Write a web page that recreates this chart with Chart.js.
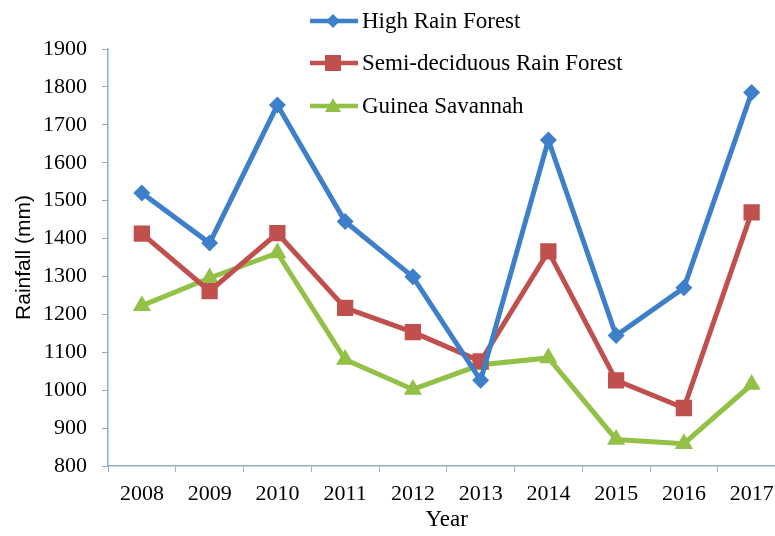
<!DOCTYPE html>
<html>
<head>
<meta charset="utf-8">
<title>Rainfall</title>
<script src="https://cdn.jsdelivr.net/npm/chart.js@4.4.0/dist/chart.umd.min.js"></script>
<style>
  body { margin: 0; overflow: hidden; background: #fff; }
  #wrap { position: relative; width: 797px; height: 536px; }
  #legend { position: absolute; left: 308px; top: 0; font-family: "Liberation Serif", "Times New Roman", serif; font-size: 23px; color: #000; }
  .row { position: absolute; left: 0; height: 26px; white-space: nowrap; display: flex; align-items: center; }
  .row svg { width: 52px; height: 26px; margin-right: 2px; }
</style>
</head>
<body>
<div id="wrap">
  <canvas id="graficaLluvia" width="797" height="536"></canvas>
  <div id="legend"></div>
</div>
<script>
// Datos
const years = ['2008', '2009', '2010', '2011', '2012', '2013', '2014', '2015', '2016', '2017'];
const seriesNames = ['High Rain Forest', 'Semi-deciduous Rain Forest', 'Guinea Savannah'];
const highRainForest = [1520, 1388, 1752, 1445, 1299, 1026, 1660, 1144, 1270, 1785];
const semiDeciduous = [1413, 1261, 1414, 1217, 1153, 1076, 1366, 1026, 953, 1469];
const guineaSavannah = [1223, 1296, 1362, 1081, 1002, 1067, 1085, 870, 859, 1015];
const yTicks = [800, 900, 1000, 1100, 1200, 1300, 1400, 1500, 1600, 1700, 1800, 1900];

const colores = ['#3d7fc9', '#c0504d', '#93c047'];
const formas = ['rectRot', 'rect', 'triangle'];
const radios = [8.5, 11.5, 10.5];
const valores = [highRainForest, semiDeciduous, guineaSavannah];

const axisColor = '#8fb0c4';
const serif = 'Liberation Serif';

const datasets = seriesNames.map((name, i) => ({
  label: name,
  data: valores[i],
  borderColor: colores[i],
  backgroundColor: colores[i],
  borderWidth: 5,
  pointStyle: formas[i],
  pointRadius: radios[i],
  pointHoverRadius: radios[i],
  pointBorderWidth: 0,
  tension: 0
}));

const config = {
  type: 'line',
  data: { labels: years, datasets: datasets },
  options: {
    responsive: false,
    animation: false,
    layout: { padding: { top: 49, right: 4, left: 0, bottom: 0 } },
    plugins: {
      legend: { display: false },
      tooltip: { enabled: false }
    },
    scales: {
      x: {
        type: 'category',
        offset: true,
        grid: { display: true, drawOnChartArea: false, drawTicks: true, tickLength: 6, color: axisColor, offset: true },
        border: { color: axisColor, width: 1.5 },
        ticks: { color: '#000', font: { family: serif, size: 22 }, padding: 9, maxRotation: 0, autoSkip: false },
        title: { display: true, text: 'Year', color: '#000', font: { family: serif, size: 23 }, padding: { top: 0, bottom: 2 } },
        afterFit: (scale) => { scale.height = 70; }
      },
      y: {
        min: 800,
        max: 1900,
        afterBuildTicks: (scale) => { scale.ticks = yTicks.map(v => ({ value: v })); },
        grid: { display: true, drawOnChartArea: false, drawTicks: true, tickLength: 6, color: axisColor },
        border: { color: axisColor, width: 1.5 },
        ticks: { color: '#000', font: { family: serif, size: 22 }, padding: 15, callback: (v) => String(v) },
        title: { display: true, text: 'Rainfall (mm)', color: '#000', font: { family: 'Liberation Sans', size: 21 }, padding: { top: 12, bottom: 0 } },
        afterFit: (scale) => { scale.width = 108; }
      }
    }
  }
};

var grafica = new Chart(document.getElementById('graficaLluvia'), config);

// Leyenda en HTML (filas apiladas como en la figura)
const legendTops = [8, 50, 93];
const leg = document.getElementById('legend');
seriesNames.forEach((name, i) => {
  const row = document.createElement('div');
  row.className = 'row';
  row.style.top = legendTops[i] + 'px';
  let marker = '';
  if (i === 0) marker = '<polygon points="25,6 32,13 25,20 18,13" fill="' + colores[i] + '"/>';
  if (i === 1) marker = '<rect x="17" y="5" width="16" height="16" fill="' + colores[i] + '"/>';
  if (i === 2) marker = '<polygon points="25,5 33,19 17,19" fill="' + colores[i] + '"/>';
  row.innerHTML = '<svg viewBox="0 0 52 26"><line x1="2" y1="13" x2="50" y2="13" stroke="' + colores[i] +
    '" stroke-width="4.5"/>' + marker + '</svg><span>' + name + '</span>';
  leg.appendChild(row);
});
</script>
</body>
</html>
